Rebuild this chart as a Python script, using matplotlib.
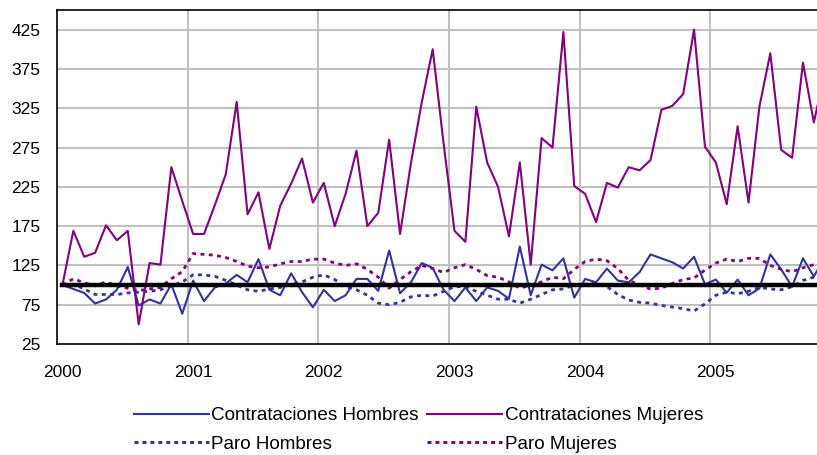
import numpy as np
import matplotlib
matplotlib.use("Agg")
import matplotlib.pyplot as plt
from matplotlib.lines import Line2D

plt.rcParams['font.family'] = ['Liberation Sans', 'DejaVu Sans']

# ---- data (monthly index, Jan 2000 = 100) ----
years = ["2000", "2001", "2002", "2003", "2004", "2005"]

contr_hombres = [100, 95, 90, 76.5, 81.7, 94, 123, 74, 81.7, 76.5, 101, 63.5,
                 105.7, 79.6, 97, 102, 113, 103.5, 133, 94, 87, 115, 91, 71.7,
                 94, 79.6, 87, 107.8, 107.8, 92.6, 144, 89.6, 103.5, 128, 121.7, 94,
                 79.6, 97, 79.6, 97, 92.6, 82.6, 149, 87, 126, 118.7, 134, 84,
                 107.8, 103.5, 121, 105.7, 103.5, 116.5, 139, 134, 129, 121, 136, 101,
                 107, 90.4, 107, 87, 95.7, 139, 120, 97.8, 134, 111, 135]

contr_mujeres = [100, 169, 136, 141, 176, 157, 169, 50, 128, 126, 250, 207,
                 165, 165, 202, 241, 333, 190, 218, 146, 201, 229, 261, 205,
                 230, 175, 216, 271, 175, 192, 285, 165, 255, 333, 400, 280,
                 169, 155, 327, 256, 225, 162, 256, 126, 287, 275, 422, 226,
                 216, 180, 230, 224, 250, 246, 259, 323, 328, 343, 425, 276,
                 256, 203, 302, 205, 327, 395, 272, 262, 383, 307, 370]

paro_hombres = [100, 101, 95, 88, 88, 88, 90, 91, 92, 94, 99, 104,
                113, 113, 111, 106, 100, 94, 92, 95, 97, 101, 104, 110,
                113, 107, 98, 94, 87, 77, 75, 78, 85, 87, 86, 92,
                98, 98, 92, 87, 82, 82, 77, 82, 88, 94, 95, 100,
                101, 103, 98, 88, 81, 78, 77, 74, 72, 70, 67, 76,
                87, 91, 89, 92, 97, 95, 94, 98, 106, 110, 112]

paro_mujeres = [100, 108, 103, 99, 104, 99, 96, 93, 95, 97, 108, 117,
                140, 139, 138, 135, 130, 124, 122, 123, 127, 130, 130, 133,
                133, 128, 125, 127, 120, 110, 96, 107, 117, 125, 121, 116,
                122, 126, 120, 112, 110, 104, 96, 100, 104, 110, 108, 120,
                130, 133, 131, 121, 106, 100, 95, 96, 102, 107, 109, 119,
                128, 133, 130, 134, 134, 125, 120, 117, 122, 126, 128]

base_index = [100] * len(contr_mujeres)

labels = ["Contrataciones Hombres", "Contrataciones Mujeres",
          "Paro Hombres", "Paro Mujeres"]

y_ticks = [25, 75, 125, 175, 225, 275, 325, 375, 425]

# ---- styles ----
BLUE = "#333399"
PURPLE = "#800080"
GRID = "#c0c0c0"

W, H = 817, 455
fig = plt.figure(figsize=(W / 100, H / 100), dpi=100)

n = len(contr_mujeres)
px_per_cat = 10.89
left_px, top_px, bottom_px = 57, 10, 344
right_px = left_px + n * px_per_cat
ax = fig.add_axes([left_px / W, 1 - bottom_px / H,
                   (right_px - left_px) / W, (bottom_px - top_px) / H])

x = np.arange(n) + 0.5
dots = (0, (1.4, 1.6))
ax.plot(x, contr_hombres, color=BLUE, lw=1.5, zorder=3)
ax.plot(x, contr_mujeres, color=PURPLE, lw=1.5, zorder=3)
ax.plot(x, paro_hombres, color=BLUE, lw=2.0, ls=dots, zorder=3)
ax.plot(x, paro_mujeres, color=PURPLE, lw=2.0, ls=dots, zorder=3)
ax.plot(x, base_index, color="black", lw=3.2, zorder=4)

ax.set_xlim(0, n)
ax.set_ylim(25, 450)

ax.set_yticks(y_ticks)
ax.set_yticklabels([str(v) for v in y_ticks])
ax.set_xticks([12 * k + 0.5 for k in range(len(years))])
ax.set_xticklabels(years)
ax.tick_params(axis='both', length=0, labelsize=12.5, colors='black')
ax.tick_params(axis='y', pad=12)
ax.tick_params(axis='x', pad=15)

# grid: horizontal at tick values, vertical at year boundaries
for v in y_ticks[1:]:
    ax.axhline(v, color=GRID, lw=1.5, zorder=1)
for k in range(1, len(years)):
    ax.axvline(12 * k, color=GRID, lw=1.5, zorder=1)

for side in ['left', 'bottom', 'top']:
    ax.spines[side].set_color('black')
    ax.spines[side].set_linewidth(1.2)
ax.spines['right'].set_visible(False)

h_ch = Line2D([], [], color=BLUE, lw=1.5)
h_cm = Line2D([], [], color=PURPLE, lw=1.5)
h_ph = Line2D([], [], color=BLUE, lw=2.2, ls=(0, (1.3, 1.3)))
h_pm = Line2D([], [], color=PURPLE, lw=2.2, ls=(0, (1.3, 1.3)))
# column-wise fill so rows read: Contrataciones..., then Paro...
leg = fig.legend([h_ch, h_ph, h_cm, h_pm],
                 [labels[0], labels[2], labels[1], labels[3]],
                 ncol=2, loc='upper left',
                 bbox_to_anchor=(134 / W, 1 - 407 / H), frameon=False,
                 fontsize=13.6, handlelength=3.95, handletextpad=0.15,
                 columnspacing=0.45, labelspacing=0.6, borderpad=0,
                 borderaxespad=0)

fig.savefig("out.png", dpi=100)
